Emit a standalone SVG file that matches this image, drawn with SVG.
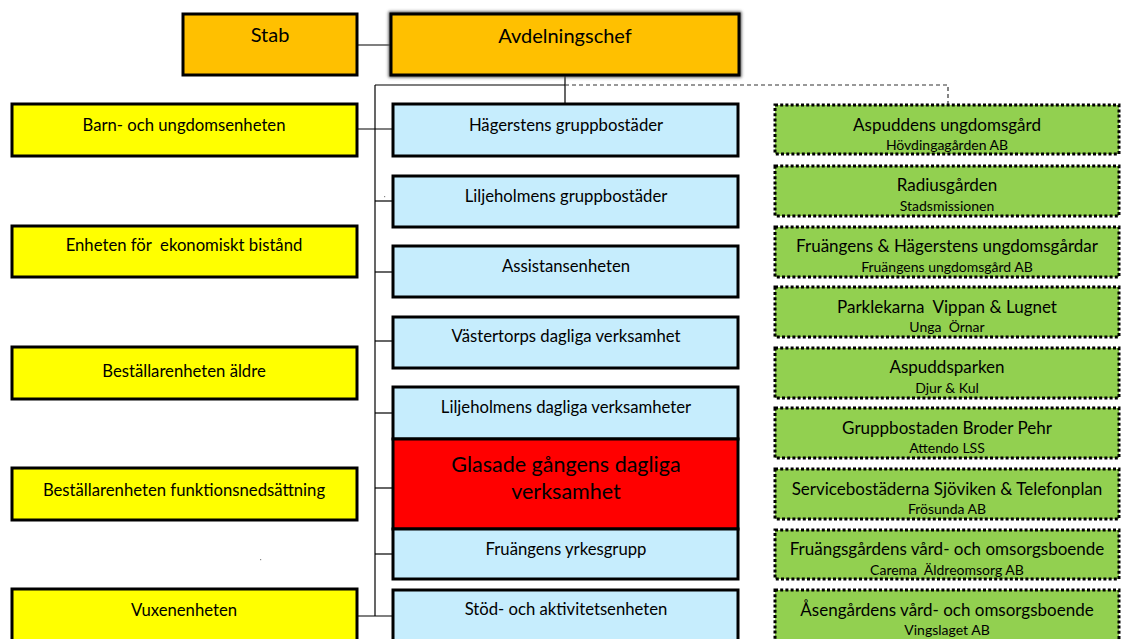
<svg xmlns="http://www.w3.org/2000/svg" width="1125" height="639" viewBox="0 0 1125 639">
<style>
text{font-family:"Lato","Open Sans","Liberation Sans",sans-serif;fill:#000;text-anchor:middle;white-space:pre}
.t{font-size:16.7px}
.big{font-size:20px}
.red{font-size:21.5px}
.gt{font-size:17px}
.gs{font-size:14px}
.box{stroke:#000;stroke-width:3}
.yel{fill:#FFFF00}
.blu{fill:#C6EDFD}
.org{fill:#FFC000}
.grn{fill:#92D050;stroke:#000;stroke-width:3;stroke-dasharray:3 2.2}
.ln{stroke:#000;stroke-width:1.2;fill:none}
.dl{stroke:#333;stroke-width:1.2;fill:none;stroke-dasharray:4 3}
</style>
<defs>
<filter id="sh" x="-5%" y="-20%" width="110%" height="140%">
<feGaussianBlur stdDeviation="1.5"/>
</filter>
</defs>
<rect width="1125" height="639" fill="#fff"/>
<g id="connectors">
<line class="ln" x1="357" y1="45" x2="391" y2="45"/>
<line class="ln" x1="565" y1="75" x2="565" y2="105"/>
<line class="ln" x1="375" y1="85" x2="565" y2="85"/>
<line class="ln" x1="375" y1="85" x2="375" y2="616"/>
<polyline class="dl" points="565,85 948,85 948,105"/>
<line class="ln" x1="357" y1="129" x2="393" y2="129"/>
<line class="ln" x1="375" y1="201" x2="393" y2="201"/>
<line class="ln" x1="375" y1="272" x2="393" y2="272"/>
<line class="ln" x1="375" y1="341" x2="393" y2="341"/>
<line class="ln" x1="375" y1="413" x2="393" y2="413"/>
<line class="ln" x1="375" y1="488" x2="393" y2="488"/>
<line class="ln" x1="375" y1="554" x2="393" y2="554"/>
<line class="ln" x1="357" y1="616" x2="393" y2="616"/>
<rect x="384" y="196" width="1.2" height="1.2" fill="#888"/>
<rect x="260" y="559" width="1.2" height="1.2" fill="#888"/>
</g>
<g id="stab"><rect class="box org" x="183" y="14" width="174" height="61"/><text class="big" x="270" y="42">Stab</text></g>
<g id="avdelningschef">
<rect x="391" y="14" width="348" height="61" fill="none" stroke="#555" stroke-width="5" filter="url(#sh)"/>
<rect class="box org" x="391" y="14" width="348" height="61" stroke="#222"/>
<text class="big" x="565" y="43">Avdelningschef</text></g>
<g id="barn"><rect class="box yel" x="12" y="104" width="345" height="52"/><text class="t" x="184" y="131">Barn- och ungdomsenheten</text></g>
<g id="ekonomiskt"><rect class="box yel" x="12" y="226" width="345" height="51"/><text class="t" x="184" y="251" xml:space="preserve">Enheten för  ekonomiskt bistånd</text></g>
<g id="aldre"><rect class="box yel" x="12" y="347" width="345" height="52"/><text class="t" x="184" y="377">Beställarenheten äldre</text></g>
<g id="funktion"><rect class="box yel" x="12" y="468" width="345" height="52"/><text class="t" x="184" y="496">Beställarenheten funktionsnedsättning</text></g>
<g id="vuxen"><rect class="box yel" x="12" y="589" width="345" height="60"/><text class="t" x="184" y="616">Vuxenenheten</text></g>
<g id="hagerstens"><rect class="box blu" x="393" y="104" width="345" height="52"/><text class="t" x="566" y="131">Hägerstens gruppbostäder</text></g>
<g id="liljeholmens-grupp"><rect class="box blu" x="393" y="176" width="345" height="51"/><text class="t" x="566" y="202">Liljeholmens gruppbostäder</text></g>
<g id="assistans"><rect class="box blu" x="393" y="246" width="345" height="51"/><text class="t" x="566" y="272">Assistansenheten</text></g>
<g id="vastertorps"><rect class="box blu" x="393" y="317" width="345" height="51"/><text class="t" x="566" y="342">Västertorps dagliga verksamhet</text></g>
<g id="liljeholmens-dagliga"><rect class="box blu" x="393" y="387" width="345" height="52"/><text class="t" x="566" y="413">Liljeholmens dagliga verksamheter</text></g>
<g id="glasade"><rect class="box" fill="#FF0000" x="393" y="439" width="345" height="90"/><text class="red" x="566" y="472">Glasade gångens dagliga</text><text class="red" x="566" y="499">verksamhet</text></g>
<g id="fruangens-yrkes"><rect class="box blu" x="393" y="529" width="345" height="50"/><text class="t" x="566" y="555">Fruängens yrkesgrupp</text></g>
<g id="stod"><rect class="box blu" x="393" y="590" width="345" height="60"/><text class="t" x="566" y="615">Stöd- och aktivitetsenheten</text></g>
<g id="aspuddens"><rect class="grn" x="775" y="105" width="344" height="49"/><text class="gt" x="947" y="131">Aspuddens ungdomsgård</text><text class="gs" x="947" y="150">Hövdingagården AB</text></g>
<g id="radius"><rect class="grn" x="775" y="166" width="344" height="50"/><text class="gt" x="947" y="191">Radiusgården</text><text class="gs" x="947" y="211">Stadsmissionen</text></g>
<g id="fruangens-ungdom"><rect class="grn" x="775" y="227" width="344" height="50"/><text class="gt" x="947" y="252">Fruängens &amp; Hägerstens ungdomsgårdar</text><text class="gs" x="947" y="272">Fruängens ungdomsgård AB</text></g>
<g id="parklekarna"><rect class="grn" x="775" y="287" width="344" height="50"/><text class="gt" x="947" y="313" xml:space="preserve">Parklekarna  Vippan &amp; Lugnet</text><text class="gs" x="947" y="332" xml:space="preserve">Unga  Örnar</text></g>
<g id="aspuddsparken"><rect class="grn" x="775" y="348" width="344" height="50"/><text class="gt" x="947" y="373">Aspuddsparken</text><text class="gs" x="947" y="393">Djur &amp; Kul</text></g>
<g id="broder-pehr"><rect class="grn" x="775" y="408" width="344" height="50"/><text class="gt" x="947" y="434">Gruppbostaden Broder Pehr</text><text class="gs" x="947" y="453">Attendo LSS</text></g>
<g id="servicebostaderna"><rect class="grn" x="775" y="469" width="344" height="50"/><text class="gt" x="947" y="495">Servicebostäderna Sjöviken &amp; Telefonplan</text><text class="gs" x="947" y="514">Frösunda AB</text></g>
<g id="fruangsgardens"><rect class="grn" x="775" y="530" width="344" height="49"/><text class="gt" x="947" y="555">Fruängsgårdens vård- och omsorgsboende</text><text class="gs" x="947" y="575" xml:space="preserve">Carema  Äldreomsorg AB</text></g>
<g id="asengardens"><rect class="grn" x="775" y="590" width="344" height="60"/><text class="gt" x="947" y="616">Åsengårdens vård- och omsorgsboende</text><text class="gs" x="947" y="635">Vingslaget AB</text></g>
</svg>
